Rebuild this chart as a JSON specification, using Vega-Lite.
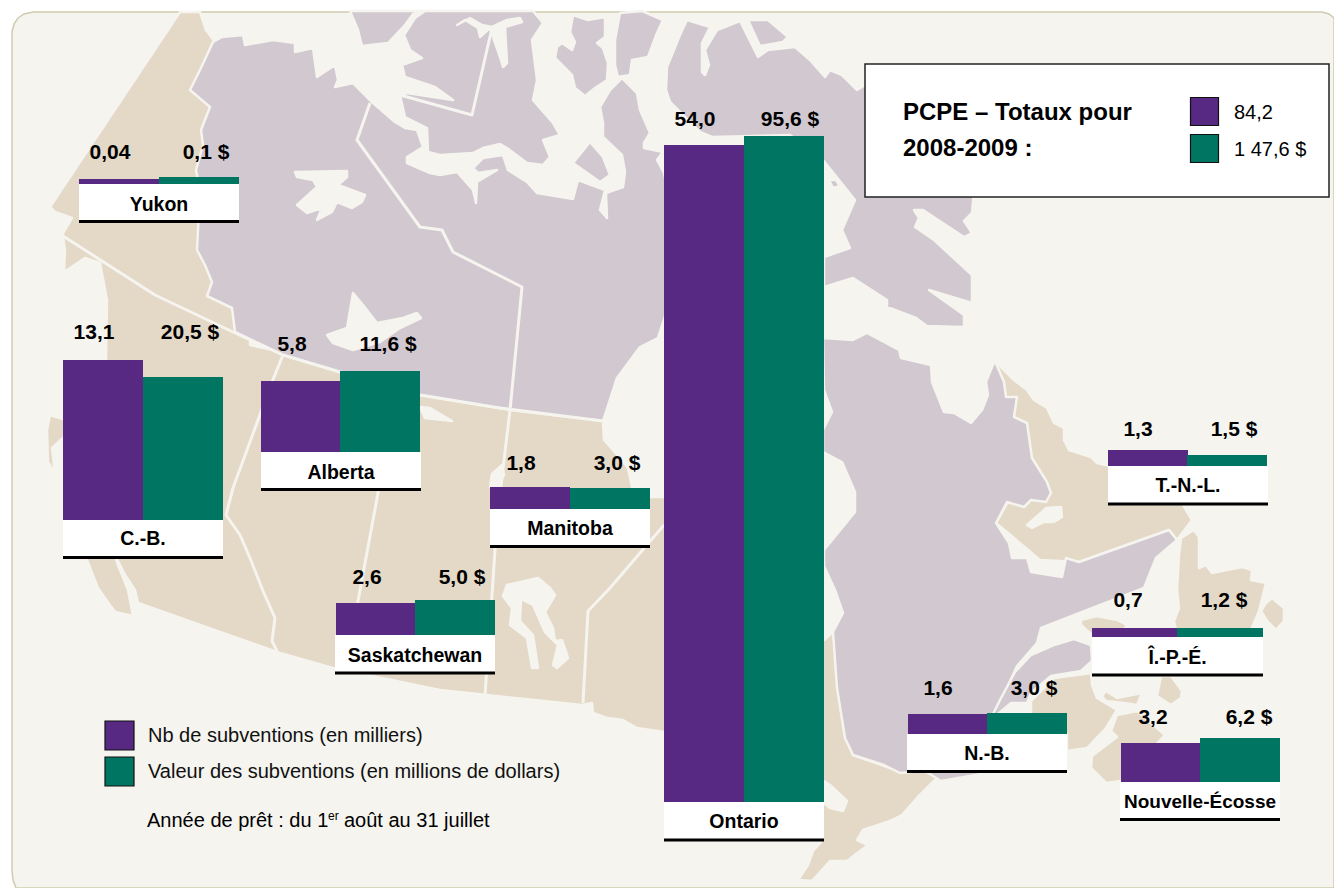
{"$schema":"https://vega.github.io/schema/vega-lite/v6.json","width":1334,"height":888,"padding":0,"autosize":{"type":"none"},"background":"#ffffff",
"config":{"view":{"stroke":null},"style":{"val":{"font":"Liberation Sans","fontWeight":"bold","fontSize":21,"fill":"#000","align":"center","baseline":"middle"},"prov":{"font":"Liberation Sans","fontWeight":"bold","fontSize":19.5,"fill":"#000","align":"center","baseline":"middle"},"txt":{"font":"Liberation Sans","fontSize":20,"fill":"#111","align":"left","baseline":"middle"}}},
"datasets":{
"nb":[{"province":"Yukon","measure":"Nb de subventions (en milliers)","value":0.04,"label":"0,04"},{"province":"C.-B.","measure":"Nb de subventions (en milliers)","value":13.1,"label":"13,1"},{"province":"Alberta","measure":"Nb de subventions (en milliers)","value":5.8,"label":"5,8"},{"province":"Saskatchewan","measure":"Nb de subventions (en milliers)","value":2.6,"label":"2,6"},{"province":"Manitoba","measure":"Nb de subventions (en milliers)","value":1.8,"label":"1,8"},{"province":"Ontario","measure":"Nb de subventions (en milliers)","value":54.0,"label":"54,0"},{"province":"T.-N.-L.","measure":"Nb de subventions (en milliers)","value":1.3,"label":"1,3"},{"province":"Î.-P.-É.","measure":"Nb de subventions (en milliers)","value":0.7,"label":"0,7"},{"province":"N.-B.","measure":"Nb de subventions (en milliers)","value":1.6,"label":"1,6"},{"province":"Nouvelle-Écosse","measure":"Nb de subventions (en milliers)","value":3.2,"label":"3,2"}],
"val":[{"province":"Yukon","measure":"Valeur des subventions (en millions de dollars)","value":0.1,"label":"0,1 $"},{"province":"C.-B.","measure":"Valeur des subventions (en millions de dollars)","value":20.5,"label":"20,5 $"},{"province":"Alberta","measure":"Valeur des subventions (en millions de dollars)","value":11.6,"label":"11,6 $"},{"province":"Saskatchewan","measure":"Valeur des subventions (en millions de dollars)","value":5.0,"label":"5,0 $"},{"province":"Manitoba","measure":"Valeur des subventions (en millions de dollars)","value":3.0,"label":"3,0 $"},{"province":"Ontario","measure":"Valeur des subventions (en millions de dollars)","value":95.6,"label":"95,6 $"},{"province":"T.-N.-L.","measure":"Valeur des subventions (en millions de dollars)","value":1.5,"label":"1,5 $"},{"province":"Î.-P.-É.","measure":"Valeur des subventions (en millions de dollars)","value":1.2,"label":"1,2 $"},{"province":"N.-B.","measure":"Valeur des subventions (en millions de dollars)","value":3.0,"label":"3,0 $"},{"province":"Nouvelle-Écosse","measure":"Valeur des subventions (en millions de dollars)","value":6.2,"label":"6,2 $"}],
"totals":[{"measure":"Nb de subventions (en milliers)","total":84.2,"label":"84,2"},{"measure":"Valeur des subventions (en millions de dollars)","total":147.6,"label":"1 47,6 $"}],
"fond":[
{"type":"Feature","properties":{"kind":"frame"},"geometry":{"type":"Polygon","coordinates":[[[0,0],[1334,0],[1334,888],[0,888],[0,0]]]}},
{"type":"Feature","properties":{"kind":"panel"},"geometry":{"type":"Polygon","coordinates":[[[12,32],[14,24],[18,18],[24,14],[33,12],[1322,12],[1329,14],[1334,18],[1334,888],[16,888],[13,880],[12,870],[12,32]]]}}],
"terre":[
{"type":"Feature","properties":{"kind":"west"},"geometry":{"type":"Polygon","coordinates":[[[180,12],[200,12],[206,30],[215,42],[250,200],[250,345],[603,421],[604,440],[613,450],[628,468],[633,492],[650,497],[664,497],[720,550],[824,640],[833,632],[853,755],[890,768],[934,773],[937,778],[917,798],[902,815],[890,821],[863,830],[857,840],[868,845],[860,851],[847,861],[830,861],[812,881],[798,880],[808,865],[813,851],[823,840],[800,840],[664,732],[637,728],[623,720],[607,718],[593,713],[592,703],[582,705],[487,695],[440,690],[333,668],[280,653],[138,603],[135,590],[125,575],[116,557],[106,360],[107,300],[100,263],[85,258],[64,272],[65,250],[63,237],[63,233],[72,218],[55,212],[50,207],[180,12]]]}},
{"type":"Feature","properties":{"kind":"west"},"geometry":{"type":"Polygon","coordinates":[[[83,550],[98,588],[105,598],[115,612],[133,616],[128,590],[118,565],[113,550],[83,550]]]}},
{"type":"Feature","properties":{"kind":"west"},"geometry":{"type":"Polygon","coordinates":[[[50,415],[66,420],[66,435],[52,448],[55,473],[48,462],[47,430],[50,415]]]}},
{"type":"Feature","properties":{"kind":"west"},"geometry":{"type":"Polygon","coordinates":[[[995,361],[1014,380],[1027,390],[1034,400],[1047,408],[1054,423],[1064,428],[1064,440],[1069,450],[1091,457],[1097,463],[1110,466],[1180,500],[1192,520],[1177,540],[1169,530],[1079,562],[1040,560],[996,523],[1020,480],[1005,400],[995,361]]]}},
{"type":"Feature","properties":{"kind":"west"},"geometry":{"type":"Polygon","coordinates":[[[1031,701],[1054,678],[1091,673],[1092,685],[1097,698],[1117,710],[1106,728],[1087,748],[1067,751],[1067,734],[1031,714],[1031,701]]]}},
{"type":"Feature","properties":{"kind":"west"},"geometry":{"type":"Polygon","coordinates":[[[1102,696],[1106,691],[1117,698],[1142,693],[1137,705],[1124,703],[1106,701],[1102,696]]]}},
{"type":"Feature","properties":{"kind":"west"},"geometry":{"type":"Polygon","coordinates":[[[1091,768],[1092,756],[1117,737],[1111,731],[1117,715],[1137,711],[1165,735],[1121,781],[1106,783],[1091,768]]]}},
{"type":"Feature","properties":{"kind":"west"},"geometry":{"type":"Polygon","coordinates":[[[1161,676],[1171,676],[1182,691],[1181,698],[1171,705],[1157,696],[1161,676]]]}},
{"type":"Feature","properties":{"kind":"west"},"geometry":{"type":"Polygon","coordinates":[[[1081,620],[1097,616],[1117,620],[1127,625],[1120,635],[1092,635],[1081,625],[1081,620]]]}},
{"type":"Feature","properties":{"kind":"west"},"geometry":{"type":"Polygon","coordinates":[[[1177,590],[1179,555],[1181,538],[1194,530],[1199,537],[1199,568],[1206,565],[1212,573],[1242,567],[1252,570],[1251,580],[1266,583],[1259,611],[1251,630],[1176,630],[1174,621],[1179,608],[1177,590]]]}},
{"type":"Feature","properties":{"kind":"west"},"geometry":{"type":"Polygon","coordinates":[[[1272,598],[1284,608],[1284,621],[1276,630],[1267,621],[1261,611],[1266,603],[1272,598]]]}},
{"type":"Feature","properties":{"kind":"east"},"geometry":{"type":"Polygon","coordinates":[[[213,42],[222,37],[243,35],[245,45],[273,40],[295,43],[295,52],[313,48],[317,77],[335,65],[338,80],[335,87],[353,83],[367,97],[373,103],[395,122],[405,128],[417,130],[423,147],[407,157],[407,163],[430,173],[440,175],[457,172],[473,190],[476,203],[477,182],[497,170],[478,173],[473,168],[483,158],[503,155],[508,170],[527,182],[537,193],[573,199],[578,180],[605,190],[600,210],[607,218],[606,193],[623,187],[625,172],[622,155],[603,137],[603,123],[600,107],[610,90],[622,78],[637,93],[640,110],[650,133],[644,143],[644,148],[663,152],[657,160],[664,173],[680,250],[664,320],[662,325],[658,338],[640,347],[617,378],[606,412],[603,421],[510,410],[420,395],[340,372],[283,355],[235,332],[232,308],[207,296],[212,282],[205,265],[197,250],[200,190],[196,170],[203,145],[201,130],[210,107],[190,90],[200,70],[213,42]]]}},
{"type":"Feature","properties":{"kind":"east"},"geometry":{"type":"Polygon","coordinates":[[[350,11],[358,30],[362,46],[388,43],[405,25],[413,14],[425,11],[350,11]]]}},
{"type":"Feature","properties":{"kind":"east"},"geometry":{"type":"Polygon","coordinates":[[[425,11],[415,18],[404,35],[410,50],[422,58],[402,65],[405,77],[435,87],[453,100],[407,93],[400,95],[405,117],[427,128],[428,152],[440,155],[473,153],[483,148],[500,144],[507,148],[527,163],[543,165],[550,157],[543,140],[560,135],[553,123],[533,100],[537,80],[532,40],[543,23],[533,11],[425,11]]]}},
{"type":"Feature","properties":{"kind":"water"},"geometry":{"type":"Polygon","coordinates":[[[457,25],[465,20],[478,28],[480,37],[490,28],[500,57],[503,67],[507,63],[505,27],[522,22],[520,18],[507,20],[492,27],[482,25],[470,18],[457,25]]]}},
{"type":"Feature","properties":{"kind":"east"},"geometry":{"type":"Polygon","coordinates":[[[573,15],[588,20],[605,17],[605,37],[597,43],[603,48],[608,63],[607,80],[595,88],[585,96],[575,88],[572,75],[555,58],[557,47],[562,43],[572,50],[575,42],[570,32],[573,15]]]}},
{"type":"Feature","properties":{"kind":"east"},"geometry":{"type":"Polygon","coordinates":[[[620,13],[642,11],[663,20],[657,33],[648,57],[632,60],[630,75],[618,77],[615,65],[615,40],[620,13]]]}},
{"type":"Feature","properties":{"kind":"east"},"geometry":{"type":"Polygon","coordinates":[[[590,142],[573,163],[600,182],[610,175],[603,157],[590,142]]]}},
{"type":"Feature","properties":{"kind":"east"},"geometry":{"type":"Polygon","coordinates":[[[748,20],[768,20],[788,37],[783,42],[760,46],[748,20]]]}},
{"type":"Feature","properties":{"kind":"east"},"geometry":{"type":"Polygon","coordinates":[[[687,20],[710,27],[702,43],[702,72],[705,75],[709,65],[705,50],[717,30],[740,21],[758,57],[768,50],[795,47],[810,60],[825,77],[830,70],[842,75],[857,90],[865,85],[974,190],[972,213],[964,221],[972,233],[964,237],[923,210],[914,210],[919,218],[915,227],[934,240],[972,275],[972,303],[929,290],[964,315],[964,327],[927,326],[916,318],[887,307],[887,300],[853,278],[824,287],[824,257],[850,248],[842,230],[855,200],[823,160],[790,135],[712,137],[700,132],[670,102],[666,90],[667,67],[680,35],[687,20]]]}},
{"type":"Feature","properties":{"kind":"east"},"geometry":{"type":"Polygon","coordinates":[[[829,180],[836,180],[840,186],[833,188],[829,180]]]}},
{"type":"Feature","properties":{"kind":"east"},"geometry":{"type":"Polygon","coordinates":[[[823,338],[853,340],[867,333],[884,342],[899,350],[901,358],[931,365],[932,382],[944,412],[954,413],[971,423],[982,410],[988,395],[986,382],[992,367],[995,361],[1004,382],[1006,397],[1017,397],[1014,417],[1027,423],[1032,458],[1047,482],[1051,493],[1046,502],[1031,500],[1024,507],[1007,502],[996,523],[1009,543],[1012,558],[1027,558],[1031,572],[1062,577],[1066,558],[1079,562],[1169,530],[1177,540],[1156,558],[1144,588],[1041,628],[1037,643],[1017,666],[997,710],[984,731],[987,773],[941,781],[925,771],[900,773],[884,765],[853,755],[845,738],[837,688],[833,632],[843,613],[835,590],[824,566],[824,550],[855,512],[855,492],[842,462],[823,452],[823,430],[832,412],[824,390],[823,338]]]}},
{"type":"Feature","properties":{"kind":"east"},"geometry":{"type":"Polygon","coordinates":[[[1031,655],[1054,645],[1074,639],[1091,645],[1092,661],[1081,671],[1051,676],[1031,693],[1027,703],[1011,703],[998,714],[985,730],[1000,700],[1015,672],[1031,655]]]}},
{"type":"Feature","properties":{"kind":"water"},"geometry":{"type":"Polygon","coordinates":[[[295,172],[347,171],[347,177],[338,185],[365,195],[362,202],[352,208],[337,202],[332,212],[317,220],[322,208],[307,213],[297,205],[317,187],[313,180],[297,177],[295,172]]]}},
{"type":"Feature","properties":{"kind":"water"},"geometry":{"type":"Polygon","coordinates":[[[327,335],[347,328],[353,293],[363,305],[377,323],[403,318],[417,313],[421,318],[400,328],[380,342],[353,350],[333,343],[327,335]]]}},
{"type":"Feature","properties":{"kind":"water"},"geometry":{"type":"Polygon","coordinates":[[[420,407],[430,408],[452,421],[425,418],[420,407]]]}},
{"type":"Feature","properties":{"kind":"water"},"geometry":{"type":"Polygon","coordinates":[[[490,487],[492,474],[502,465],[504,475],[498,487],[490,487]]]}},
{"type":"Feature","properties":{"kind":"water"},"geometry":{"type":"Polygon","coordinates":[[[507,585],[538,578],[550,588],[555,595],[545,612],[553,628],[555,641],[562,640],[568,658],[557,668],[553,665],[558,645],[545,632],[533,605],[521,599],[520,621],[533,635],[538,668],[532,668],[527,638],[510,625],[512,608],[503,596],[507,585]]]}},
{"type":"Feature","properties":{"kind":"water"},"geometry":{"type":"Polygon","coordinates":[[[824,781],[830,785],[847,801],[843,811],[830,808],[824,803],[824,781]]]}},
{"type":"Feature","properties":{"kind":"water"},"geometry":{"type":"Polygon","coordinates":[[[1027,525],[1042,512],[1046,508],[1061,507],[1062,517],[1054,522],[1044,522],[1032,528],[1027,525]]]}}],
"frontieres":[
{"type":"Feature","properties":{"kind":"line"},"geometry":{"type":"LineString","coordinates":[[63,236],[155,295],[233,332],[283,355],[340,372],[420,395],[500,408],[603,421]]}},
{"type":"Feature","properties":{"kind":"line"},"geometry":{"type":"LineString","coordinates":[[283,355],[272,382],[233,488],[226,515],[240,535],[250,558],[263,591],[275,618],[272,641],[277,651]]}},
{"type":"Feature","properties":{"kind":"line"},"geometry":{"type":"LineString","coordinates":[[398,385],[358,601],[345,668]]}},
{"type":"Feature","properties":{"kind":"line"},"geometry":{"type":"LineString","coordinates":[[510,410],[505,452],[497,520],[492,595],[485,695]]}},
{"type":"Feature","properties":{"kind":"line"},"geometry":{"type":"LineString","coordinates":[[370,103],[357,140],[420,227],[442,230],[453,252],[522,287],[510,410]]}},
{"type":"Feature","properties":{"kind":"line"},"geometry":{"type":"LineString","coordinates":[[400,95],[472,115],[492,28]]}},
{"type":"Feature","properties":{"kind":"line"},"geometry":{"type":"LineString","coordinates":[[664,525],[610,588],[588,611],[583,703]]}}]
},
"resolve":{"scale":{"x":"independent","y":"independent"}},
"layer":[
{"data":{"name":"fond"},"mark":{"type":"geoshape","strokeWidth":1.5},"projection":{"type":"identity","reflectY":false},"encoding":{"fill":{"field":"properties.kind","type":"nominal","scale":{"domain":["frame","panel","west","east","water"],"range":["#ffffff","#f5f4ef","#e4d8c7","#d1c8d0","#f5f4ef"]},"legend":null},"stroke":{"field":"properties.kind","type":"nominal","scale":{"domain":["frame","panel"],"range":["#ffffff","#cfcbb0"]},"legend":null}}},
{"data":{"name":"terre"},"mark":{"type":"geoshape","stroke":"#f5f4ef","strokeWidth":2.5,"strokeJoin":"round"},"projection":{"type":"identity","reflectY":false},"encoding":{"fill":{"field":"properties.kind","type":"nominal","legend":null}}},
{"data":{"name":"frontieres"},"mark":{"type":"geoshape","filled":false,"stroke":"#f5f4ef","strokeWidth":3,"strokeJoin":"round"},"projection":{"type":"identity","reflectY":false}},

{"data":{"name":"nb"},"transform":[{"filter":"datum.province=='Yukon'"}],"encoding":{"x":{"datum":0,"type":"quantitative","scale":{"domain":[0,1],"range":[79,239],"nice":false},"axis":null},"y":{"datum":1,"type":"quantitative","scale":{"domain":[0,1],"range":[184,221.5],"nice":false},"axis":null}},"layer":[{"mark":{"type":"rect","fill":"#fff"},"encoding":{"x2":{"datum":1},"y2":{"datum":0}}},{"mark":{"type":"rule","stroke":"#000","strokeWidth":3},"encoding":{"x2":{"datum":1}}},{"mark":{"type":"text","style":"prov","dx":80,"dy":-17},"encoding":{"text":{"field":"province"}}}]},
{"data":{"name":"nb"},"transform":[{"filter":"datum.province=='C.-B.'"}],"encoding":{"x":{"datum":0,"type":"quantitative","scale":{"domain":[0,1],"range":[63,223],"nice":false},"axis":null},"y":{"datum":1,"type":"quantitative","scale":{"domain":[0,1],"range":[520,557.5],"nice":false},"axis":null}},"layer":[{"mark":{"type":"rect","fill":"#fff"},"encoding":{"x2":{"datum":1},"y2":{"datum":0}}},{"mark":{"type":"rule","stroke":"#000","strokeWidth":3},"encoding":{"x2":{"datum":1}}},{"mark":{"type":"text","style":"prov","dx":80,"dy":-19},"encoding":{"text":{"field":"province"}}}]},
{"data":{"name":"nb"},"transform":[{"filter":"datum.province=='Alberta'"}],"encoding":{"x":{"datum":0,"type":"quantitative","scale":{"domain":[0,1],"range":[261,421],"nice":false},"axis":null},"y":{"datum":1,"type":"quantitative","scale":{"domain":[0,1],"range":[452,489.5],"nice":false},"axis":null}},"layer":[{"mark":{"type":"rect","fill":"#fff"},"encoding":{"x2":{"datum":1},"y2":{"datum":0}}},{"mark":{"type":"rule","stroke":"#000","strokeWidth":3},"encoding":{"x2":{"datum":1}}},{"mark":{"type":"text","style":"prov","dx":80,"dy":-17},"encoding":{"text":{"field":"province"}}}]},
{"data":{"name":"nb"},"transform":[{"filter":"datum.province=='Saskatchewan'"}],"encoding":{"x":{"datum":0,"type":"quantitative","scale":{"domain":[0,1],"range":[335,495],"nice":false},"axis":null},"y":{"datum":1,"type":"quantitative","scale":{"domain":[0,1],"range":[635,673],"nice":false},"axis":null}},"layer":[{"mark":{"type":"rect","fill":"#fff"},"encoding":{"x2":{"datum":1},"y2":{"datum":0}}},{"mark":{"type":"rule","stroke":"#000","strokeWidth":3},"encoding":{"x2":{"datum":1}}},{"mark":{"type":"text","style":"prov","dx":80,"dy":-17.5},"encoding":{"text":{"field":"province"}}}]},
{"data":{"name":"nb"},"transform":[{"filter":"datum.province=='Manitoba'"}],"encoding":{"x":{"datum":0,"type":"quantitative","scale":{"domain":[0,1],"range":[490,650],"nice":false},"axis":null},"y":{"datum":1,"type":"quantitative","scale":{"domain":[0,1],"range":[509,546.5],"nice":false},"axis":null}},"layer":[{"mark":{"type":"rect","fill":"#fff"},"encoding":{"x2":{"datum":1},"y2":{"datum":0}}},{"mark":{"type":"rule","stroke":"#000","strokeWidth":3},"encoding":{"x2":{"datum":1}}},{"mark":{"type":"text","style":"prov","dx":80,"dy":-18},"encoding":{"text":{"field":"province"}}}]},
{"data":{"name":"nb"},"transform":[{"filter":"datum.province=='Ontario'"}],"encoding":{"x":{"datum":0,"type":"quantitative","scale":{"domain":[0,1],"range":[664,824],"nice":false},"axis":null},"y":{"datum":1,"type":"quantitative","scale":{"domain":[0,1],"range":[802,840],"nice":false},"axis":null}},"layer":[{"mark":{"type":"rect","fill":"#fff"},"encoding":{"x2":{"datum":1},"y2":{"datum":0}}},{"mark":{"type":"rule","stroke":"#000","strokeWidth":3},"encoding":{"x2":{"datum":1}}},{"mark":{"type":"text","style":"prov","dx":80,"dy":-18.5},"encoding":{"text":{"field":"province"}}}]},
{"data":{"name":"nb"},"transform":[{"filter":"datum.province=='T.-N.-L.'"}],"encoding":{"x":{"datum":0,"type":"quantitative","scale":{"domain":[0,1],"range":[1108,1268],"nice":false},"axis":null},"y":{"datum":1,"type":"quantitative","scale":{"domain":[0,1],"range":[466,504],"nice":false},"axis":null}},"layer":[{"mark":{"type":"rect","fill":"#fff"},"encoding":{"x2":{"datum":1},"y2":{"datum":0}}},{"mark":{"type":"rule","stroke":"#000","strokeWidth":3},"encoding":{"x2":{"datum":1}}},{"mark":{"type":"text","style":"prov","dx":80,"dy":-18.5},"encoding":{"text":{"field":"province"}}}]},
{"data":{"name":"nb"},"transform":[{"filter":"datum.province=='Î.-P.-É.'"}],"encoding":{"x":{"datum":0,"type":"quantitative","scale":{"domain":[0,1],"range":[1092,1263],"nice":false},"axis":null},"y":{"datum":1,"type":"quantitative","scale":{"domain":[0,1],"range":[637,675],"nice":false},"axis":null}},"layer":[{"mark":{"type":"rect","fill":"#fff"},"encoding":{"x2":{"datum":1},"y2":{"datum":0}}},{"mark":{"type":"rule","stroke":"#000","strokeWidth":3},"encoding":{"x2":{"datum":1}}},{"mark":{"type":"text","style":"prov","dx":85.5,"dy":-17.5},"encoding":{"text":{"field":"province"}}}]},
{"data":{"name":"nb"},"transform":[{"filter":"datum.province=='N.-B.'"}],"encoding":{"x":{"datum":0,"type":"quantitative","scale":{"domain":[0,1],"range":[907,1067],"nice":false},"axis":null},"y":{"datum":1,"type":"quantitative","scale":{"domain":[0,1],"range":[734,771.5],"nice":false},"axis":null}},"layer":[{"mark":{"type":"rect","fill":"#fff"},"encoding":{"x2":{"datum":1},"y2":{"datum":0}}},{"mark":{"type":"rule","stroke":"#000","strokeWidth":3},"encoding":{"x2":{"datum":1}}},{"mark":{"type":"text","style":"prov","dx":80,"dy":-18},"encoding":{"text":{"field":"province"}}}]},
{"data":{"name":"nb"},"transform":[{"filter":"datum.province=='Nouvelle-Écosse'"}],"encoding":{"x":{"datum":0,"type":"quantitative","scale":{"domain":[0,1],"range":[1120,1280],"nice":false},"axis":null},"y":{"datum":1,"type":"quantitative","scale":{"domain":[0,1],"range":[782,819.5],"nice":false},"axis":null}},"layer":[{"mark":{"type":"rect","fill":"#fff"},"encoding":{"x2":{"datum":1},"y2":{"datum":0}}},{"mark":{"type":"rule","stroke":"#000","strokeWidth":3},"encoding":{"x2":{"datum":1}}},{"mark":{"type":"text","style":"prov","dx":80,"dy":-18,"fontSize":19},"encoding":{"text":{"field":"province"}}}]},

{"data":{"name":"nb"},"transform":[{"filter":"datum.province=='Yukon'"}],"encoding":{"x":{"datum":0,"type":"quantitative","scale":{"domain":[0,1],"range":[79,159],"nice":false},"axis":null},"y":{"field":"value","type":"quantitative","scale":{"domain":[0,0.04],"range":[184,179],"nice":false},"axis":null}},"layer":[{"mark":"rect","encoding":{"x2":{"datum":1},"y2":{"datum":0},"color":{"field":"measure","type":"nominal","scale":{"domain":["Nb de subventions (en milliers)","Valeur des subventions (en millions de dollars)"],"range":["#572983","#007561"]},"legend":{"title":null,"orient":"none","legendX":104,"legendY":720,"padding":0,"symbolType":"square","symbolSize":841,"symbolStrokeColor":"#111","symbolStrokeWidth":1.2,"labelFont":"Liberation Sans","labelFontSize":20,"labelColor":"#111","labelOffset":13,"labelLimit":600,"rowPadding":1}}}},{"mark":{"type":"text","style":"val","dx":31,"dy":-26},"encoding":{"text":{"field":"label"}}}]},
{"data":{"name":"val"},"transform":[{"filter":"datum.province=='Yukon'"}],"encoding":{"x":{"datum":0,"type":"quantitative","scale":{"domain":[0,1],"range":[159,239],"nice":false},"axis":null},"y":{"field":"value","type":"quantitative","scale":{"domain":[0,0.1],"range":[184,177],"nice":false},"axis":null}},"layer":[{"mark":"rect","encoding":{"x2":{"datum":1},"y2":{"datum":0},"color":{"field":"measure","type":"nominal"}}},{"mark":{"type":"text","style":"val","dx":47,"dy":-24},"encoding":{"text":{"field":"label"}}}]},
{"data":{"name":"nb"},"transform":[{"filter":"datum.province=='C.-B.'"}],"encoding":{"x":{"datum":0,"type":"quantitative","scale":{"domain":[0,1],"range":[63,143],"nice":false},"axis":null},"y":{"field":"value","type":"quantitative","scale":{"domain":[0,13.1],"range":[520,360],"nice":false},"axis":null}},"layer":[{"mark":"rect","encoding":{"x2":{"datum":1},"y2":{"datum":0},"color":{"field":"measure","type":"nominal"}}},{"mark":{"type":"text","style":"val","dx":31,"dy":-27},"encoding":{"text":{"field":"label"}}}]},
{"data":{"name":"val"},"transform":[{"filter":"datum.province=='C.-B.'"}],"encoding":{"x":{"datum":0,"type":"quantitative","scale":{"domain":[0,1],"range":[143,223],"nice":false},"axis":null},"y":{"field":"value","type":"quantitative","scale":{"domain":[0,20.5],"range":[520,377],"nice":false},"axis":null}},"layer":[{"mark":"rect","encoding":{"x2":{"datum":1},"y2":{"datum":0},"color":{"field":"measure","type":"nominal"}}},{"mark":{"type":"text","style":"val","dx":47,"dy":-44},"encoding":{"text":{"field":"label"}}}]},
{"data":{"name":"nb"},"transform":[{"filter":"datum.province=='Alberta'"}],"encoding":{"x":{"datum":0,"type":"quantitative","scale":{"domain":[0,1],"range":[261,340],"nice":false},"axis":null},"y":{"field":"value","type":"quantitative","scale":{"domain":[0,5.8],"range":[452,381],"nice":false},"axis":null}},"layer":[{"mark":"rect","encoding":{"x2":{"datum":1},"y2":{"datum":0},"color":{"field":"measure","type":"nominal"}}},{"mark":{"type":"text","style":"val","dx":31,"dy":-36},"encoding":{"text":{"field":"label"}}}]},
{"data":{"name":"val"},"transform":[{"filter":"datum.province=='Alberta'"}],"encoding":{"x":{"datum":0,"type":"quantitative","scale":{"domain":[0,1],"range":[340,420],"nice":false},"axis":null},"y":{"field":"value","type":"quantitative","scale":{"domain":[0,11.6],"range":[452,371],"nice":false},"axis":null}},"layer":[{"mark":"rect","encoding":{"x2":{"datum":1},"y2":{"datum":0},"color":{"field":"measure","type":"nominal"}}},{"mark":{"type":"text","style":"val","dx":48,"dy":-26},"encoding":{"text":{"field":"label"}}}]},
{"data":{"name":"nb"},"transform":[{"filter":"datum.province=='Saskatchewan'"}],"encoding":{"x":{"datum":0,"type":"quantitative","scale":{"domain":[0,1],"range":[336,415],"nice":false},"axis":null},"y":{"field":"value","type":"quantitative","scale":{"domain":[0,2.6],"range":[635,603],"nice":false},"axis":null}},"layer":[{"mark":"rect","encoding":{"x2":{"datum":1},"y2":{"datum":0},"color":{"field":"measure","type":"nominal"}}},{"mark":{"type":"text","style":"val","dx":31,"dy":-25},"encoding":{"text":{"field":"label"}}}]},
{"data":{"name":"val"},"transform":[{"filter":"datum.province=='Saskatchewan'"}],"encoding":{"x":{"datum":0,"type":"quantitative","scale":{"domain":[0,1],"range":[415,495],"nice":false},"axis":null},"y":{"field":"value","type":"quantitative","scale":{"domain":[0,5],"range":[635,600],"nice":false},"axis":null}},"layer":[{"mark":"rect","encoding":{"x2":{"datum":1},"y2":{"datum":0},"color":{"field":"measure","type":"nominal"}}},{"mark":{"type":"text","style":"val","dx":47,"dy":-22},"encoding":{"text":{"field":"label"}}}]},
{"data":{"name":"nb"},"transform":[{"filter":"datum.province=='Manitoba'"}],"encoding":{"x":{"datum":0,"type":"quantitative","scale":{"domain":[0,1],"range":[490,570],"nice":false},"axis":null},"y":{"field":"value","type":"quantitative","scale":{"domain":[0,1.8],"range":[509,487],"nice":false},"axis":null}},"layer":[{"mark":"rect","encoding":{"x2":{"datum":1},"y2":{"datum":0},"color":{"field":"measure","type":"nominal"}}},{"mark":{"type":"text","style":"val","dx":31,"dy":-23},"encoding":{"text":{"field":"label"}}}]},
{"data":{"name":"val"},"transform":[{"filter":"datum.province=='Manitoba'"}],"encoding":{"x":{"datum":0,"type":"quantitative","scale":{"domain":[0,1],"range":[570,650],"nice":false},"axis":null},"y":{"field":"value","type":"quantitative","scale":{"domain":[0,3],"range":[509,488],"nice":false},"axis":null}},"layer":[{"mark":"rect","encoding":{"x2":{"datum":1},"y2":{"datum":0},"color":{"field":"measure","type":"nominal"}}},{"mark":{"type":"text","style":"val","dx":47,"dy":-24},"encoding":{"text":{"field":"label"}}}]},
{"data":{"name":"nb"},"transform":[{"filter":"datum.province=='Ontario'"}],"encoding":{"x":{"datum":0,"type":"quantitative","scale":{"domain":[0,1],"range":[664,744],"nice":false},"axis":null},"y":{"field":"value","type":"quantitative","scale":{"domain":[0,54],"range":[802,145],"nice":false},"axis":null}},"layer":[{"mark":"rect","encoding":{"x2":{"datum":1},"y2":{"datum":0},"color":{"field":"measure","type":"nominal"}}},{"mark":{"type":"text","style":"val","dx":31,"dy":-25},"encoding":{"text":{"field":"label"}}}]},
{"data":{"name":"val"},"transform":[{"filter":"datum.province=='Ontario'"}],"encoding":{"x":{"datum":0,"type":"quantitative","scale":{"domain":[0,1],"range":[744,824],"nice":false},"axis":null},"y":{"field":"value","type":"quantitative","scale":{"domain":[0,95.6],"range":[802,136],"nice":false},"axis":null}},"layer":[{"mark":"rect","encoding":{"x2":{"datum":1},"y2":{"datum":0},"color":{"field":"measure","type":"nominal"}}},{"mark":{"type":"text","style":"val","dx":46,"dy":-16},"encoding":{"text":{"field":"label"}}}]},
{"data":{"name":"nb"},"transform":[{"filter":"datum.province=='T.-N.-L.'"}],"encoding":{"x":{"datum":0,"type":"quantitative","scale":{"domain":[0,1],"range":[1108,1188],"nice":false},"axis":null},"y":{"field":"value","type":"quantitative","scale":{"domain":[0,1.3],"range":[466,450],"nice":false},"axis":null}},"layer":[{"mark":"rect","encoding":{"x2":{"datum":1},"y2":{"datum":0},"color":{"field":"measure","type":"nominal"}}},{"mark":{"type":"text","style":"val","dx":30,"dy":-20},"encoding":{"text":{"field":"label"}}}]},
{"data":{"name":"val"},"transform":[{"filter":"datum.province=='T.-N.-L.'"}],"encoding":{"x":{"datum":0,"type":"quantitative","scale":{"domain":[0,1],"range":[1187,1267],"nice":false},"axis":null},"y":{"field":"value","type":"quantitative","scale":{"domain":[0,1.5],"range":[466,455],"nice":false},"axis":null}},"layer":[{"mark":"rect","encoding":{"x2":{"datum":1},"y2":{"datum":0},"color":{"field":"measure","type":"nominal"}}},{"mark":{"type":"text","style":"val","dx":47,"dy":-25},"encoding":{"text":{"field":"label"}}}]},
{"data":{"name":"nb"},"transform":[{"filter":"datum.province=='Î.-P.-É.'"}],"encoding":{"x":{"datum":0,"type":"quantitative","scale":{"domain":[0,1],"range":[1092,1177],"nice":false},"axis":null},"y":{"field":"value","type":"quantitative","scale":{"domain":[0,0.7],"range":[637,628],"nice":false},"axis":null}},"layer":[{"mark":"rect","encoding":{"x2":{"datum":1},"y2":{"datum":0},"color":{"field":"measure","type":"nominal"}}},{"mark":{"type":"text","style":"val","dx":36,"dy":-27},"encoding":{"text":{"field":"label"}}}]},
{"data":{"name":"val"},"transform":[{"filter":"datum.province=='Î.-P.-É.'"}],"encoding":{"x":{"datum":0,"type":"quantitative","scale":{"domain":[0,1],"range":[1177,1263],"nice":false},"axis":null},"y":{"field":"value","type":"quantitative","scale":{"domain":[0,1.2],"range":[637,628],"nice":false},"axis":null}},"layer":[{"mark":"rect","encoding":{"x2":{"datum":1},"y2":{"datum":0},"color":{"field":"measure","type":"nominal"}}},{"mark":{"type":"text","style":"val","dx":47,"dy":-27},"encoding":{"text":{"field":"label"}}}]},
{"data":{"name":"nb"},"transform":[{"filter":"datum.province=='N.-B.'"}],"encoding":{"x":{"datum":0,"type":"quantitative","scale":{"domain":[0,1],"range":[908,987],"nice":false},"axis":null},"y":{"field":"value","type":"quantitative","scale":{"domain":[0,1.6],"range":[734,714],"nice":false},"axis":null}},"layer":[{"mark":"rect","encoding":{"x2":{"datum":1},"y2":{"datum":0},"color":{"field":"measure","type":"nominal"}}},{"mark":{"type":"text","style":"val","dx":30,"dy":-25},"encoding":{"text":{"field":"label"}}}]},
{"data":{"name":"val"},"transform":[{"filter":"datum.province=='N.-B.'"}],"encoding":{"x":{"datum":0,"type":"quantitative","scale":{"domain":[0,1],"range":[987,1067],"nice":false},"axis":null},"y":{"field":"value","type":"quantitative","scale":{"domain":[0,3],"range":[734,713],"nice":false},"axis":null}},"layer":[{"mark":"rect","encoding":{"x2":{"datum":1},"y2":{"datum":0},"color":{"field":"measure","type":"nominal"}}},{"mark":{"type":"text","style":"val","dx":47,"dy":-24},"encoding":{"text":{"field":"label"}}}]},
{"data":{"name":"nb"},"transform":[{"filter":"datum.province=='Nouvelle-Écosse'"}],"encoding":{"x":{"datum":0,"type":"quantitative","scale":{"domain":[0,1],"range":[1121,1200],"nice":false},"axis":null},"y":{"field":"value","type":"quantitative","scale":{"domain":[0,3.2],"range":[782,743],"nice":false},"axis":null}},"layer":[{"mark":"rect","encoding":{"x2":{"datum":1},"y2":{"datum":0},"color":{"field":"measure","type":"nominal"}}},{"mark":{"type":"text","style":"val","dx":32,"dy":-25},"encoding":{"text":{"field":"label"}}}]},
{"data":{"name":"val"},"transform":[{"filter":"datum.province=='Nouvelle-Écosse'"}],"encoding":{"x":{"datum":0,"type":"quantitative","scale":{"domain":[0,1],"range":[1200,1280],"nice":false},"axis":null},"y":{"field":"value","type":"quantitative","scale":{"domain":[0,6.2],"range":[782,738],"nice":false},"axis":null}},"layer":[{"mark":"rect","encoding":{"x2":{"datum":1},"y2":{"datum":0},"color":{"field":"measure","type":"nominal"}}},{"mark":{"type":"text","style":"val","dx":49,"dy":-20},"encoding":{"text":{"field":"label"}}}]},

{"data":{"values":[{"titre":"PCPE – Totaux pour\n2008-2009 :"}]},"encoding":{"x":{"datum":0,"type":"quantitative","scale":{"domain":[0,1],"range":[865,1329],"nice":false},"axis":null},"y":{"datum":0,"type":"quantitative","scale":{"domain":[0,1],"range":[64,197],"nice":false},"axis":null}},"layer":[{"mark":{"type":"rect","fill":"#fff","stroke":"#222","strokeWidth":1.5},"encoding":{"x2":{"datum":1},"y2":{"datum":1}}},{"mark":{"type":"text","font":"Liberation Sans","fontWeight":"bold","fontSize":24,"fill":"#000","align":"left","baseline":"middle","lineBreak":"\n","lineHeight":36,"dx":38,"dy":49},"encoding":{"text":{"field":"titre"}}}]},
{"data":{"name":"totals"},"encoding":{"x":{"datum":0,"type":"quantitative","scale":{"domain":[0,1],"range":[1204.5,1320],"nice":false},"axis":null},"y":{"field":"measure","type":"nominal","scale":{"type":"point","padding":0,"domain":["Nb de subventions (en milliers)","Valeur des subventions (en millions de dollars)"],"range":[111.5,148.5]},"axis":null}},"layer":[{"mark":{"type":"point","shape":"square","filled":true,"opacity":1,"size":784,"stroke":"#111","strokeWidth":1.2},"encoding":{"color":{"field":"measure","type":"nominal"}}},{"mark":{"type":"text","style":"txt","dx":29.5,"dy":1},"encoding":{"text":{"field":"label"}}}]},
{"data":{"values":[{"note":"Année de prêt : du 1"}]},"encoding":{"x":{"datum":0,"type":"quantitative","scale":{"domain":[0,1],"range":[147,492],"nice":false},"axis":null},"y":{"datum":0,"type":"quantitative","scale":{"domain":[0,1],"range":[821,831],"nice":false},"axis":null}},"layer":[{"mark":{"type":"text","style":"txt"},"encoding":{"text":{"field":"note"}}}]},
{"data":{"values":[{"note":"er"}]},"encoding":{"x":{"datum":0,"type":"quantitative","scale":{"domain":[0,1],"range":[328,492],"nice":false},"axis":null},"y":{"datum":0,"type":"quantitative","scale":{"domain":[0,1],"range":[816,830],"nice":false},"axis":null}},"layer":[{"mark":{"type":"text","style":"txt","fontSize":12},"encoding":{"text":{"field":"note"}}}]},
{"data":{"values":[{"note":"août au 31 juillet"}]},"encoding":{"x":{"datum":0,"type":"quantitative","scale":{"domain":[0,1],"range":[344,492],"nice":false},"axis":null},"y":{"datum":0,"type":"quantitative","scale":{"domain":[0,1],"range":[821,831],"nice":false},"axis":null}},"layer":[{"mark":{"type":"text","style":"txt"},"encoding":{"text":{"field":"note"}}}]}
]}
